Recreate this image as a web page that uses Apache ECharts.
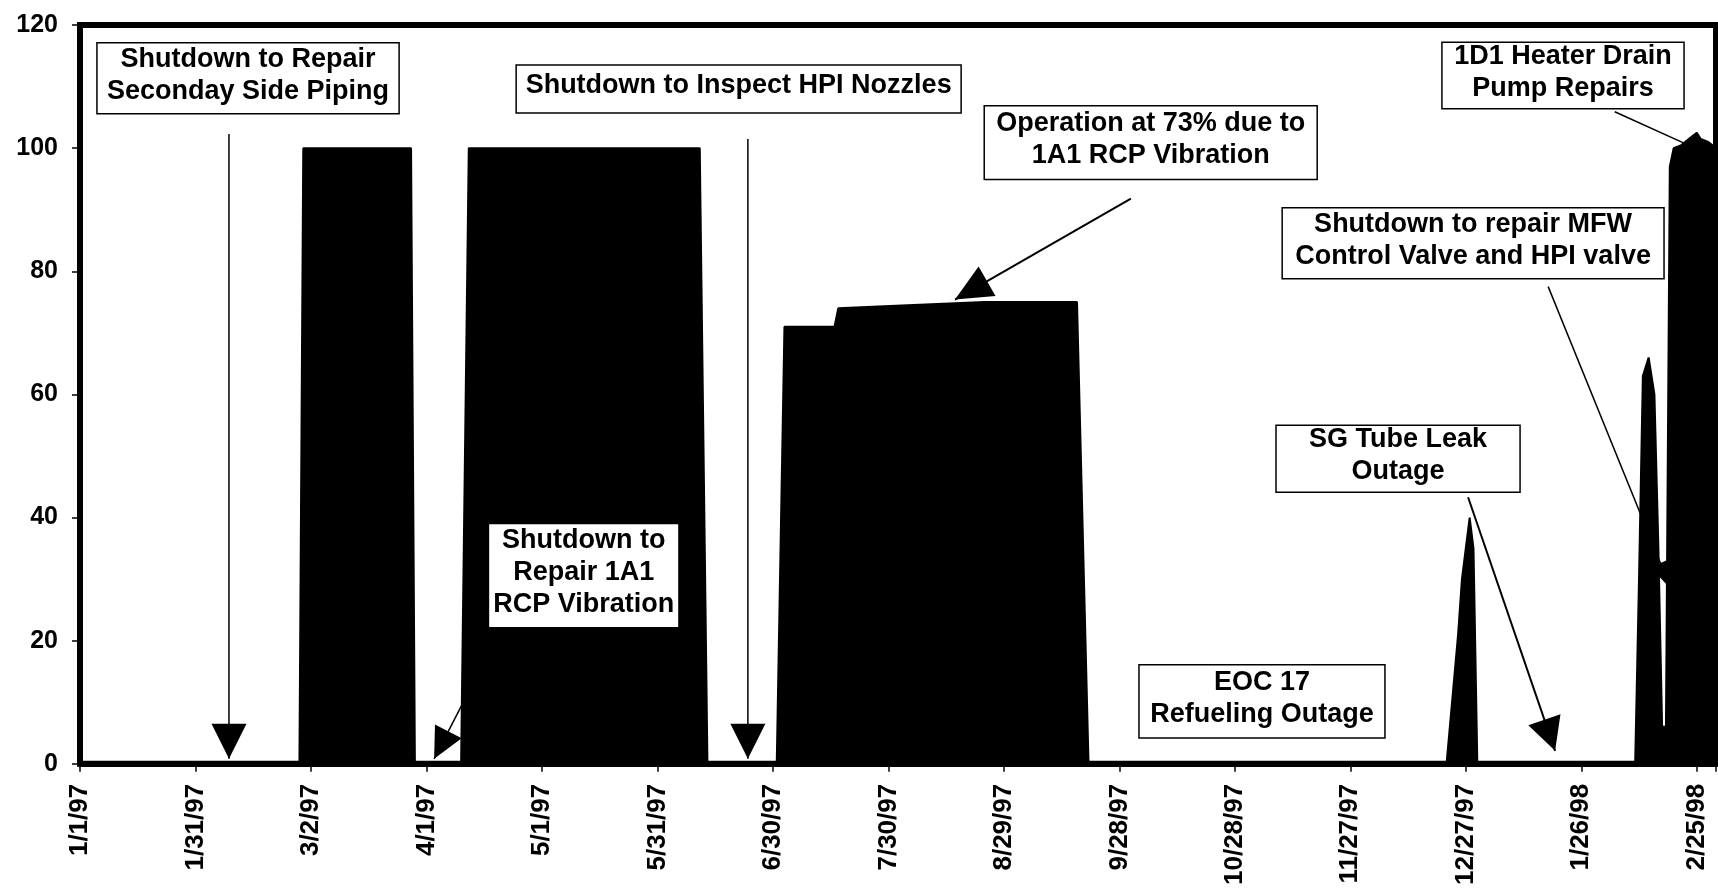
<!DOCTYPE html>
<html>
<head>
<meta charset="UTF-8">
<title>Power level 1997-98</title>
<style>
  html, body { margin: 0; padding: 0; background: #fff; }
  #chart { width: 1718px; height: 888px; }
</style>
</head>
<body>
<div id="chart"></div>
<script src="https://cdn.jsdelivr.net/npm/echarts@6/dist/echarts.min.js"></script>
<script>
// day number counted from 1/1/97, power in %
var days  = [0, 57, 58, 86, 87, 99, 101, 161, 163, 181, 183, 196, 197, 215, 235, 259, 262,
             355, 358, 359, 361, 362, 363, 404, 405, 406, 407.5, 409, 410, 411, 412,
             413, 414, 416, 418, 420, 421, 423, 425];
var power = [0, 0, 100, 100, 0, 0, 100, 100, 0, 0, 71, 71, 74, 74.5, 75, 75, 0,
             0, 21, 30, 40, 35, 0, 0, 30, 63, 66, 60, 36, 6, 6,
             97, 100, 100.5, 101.5, 102.5, 101.5, 101, 100];

var tickDays   = [0, 30, 60, 90, 120, 150, 180, 210, 240, 270, 300, 330, 360, 390, 420];
var tickLabels = ['1/1/97', '1/31/97', '3/2/97', '4/1/97', '5/1/97', '5/31/97', '6/30/97',
                  '7/30/97', '8/29/97', '9/28/97', '10/28/97', '11/27/97', '12/27/97',
                  '1/26/98', '2/25/98'];

var FONT = '"Liberation Sans", Arial, sans-serif';

// annotation boxes, corners given in axis units [day, %]
var notes = [
    { lines: ['Shutdown to Repair', 'Seconday Side Piping'], a: [4.4, 117.1], b: [82.9, 105.6], border: true },
    { lines: ['Shutdown to Inspect HPI Nozzles'], a: [113.3, 113.5], b: [228.9, 105.7], border: true },
    { lines: ['Operation at 73% due to', '1A1 RCP Vibration'], a: [234.9, 106.9], b: [321.4, 94.9], border: true },
    { lines: ['1D1 Heater Drain', 'Pump Repairs'], a: [353.8, 117.2], b: [416.7, 106.4], border: true },
    { lines: ['Shutdown to repair MFW', 'Control Valve and HPI valve'], a: [312.3, 90.3], b: [411.5, 78.8], border: true },
    { lines: ['SG Tube Leak', 'Outage'], a: [310.7, 55.0], b: [374.1, 44.1], border: true },
    { lines: ['EOC 17', 'Refueling Outage'], a: [275.1, 16.1], b: [339.0, 4.2], border: true },
    { lines: ['Shutdown to', 'Repair 1A1', 'RCP Vibration'], a: [106.3, 38.9], b: [155.4, 22.2], border: false }
];

// leader lines, from box to target, in axis units
var arrows = [
    { from: [38.7, 102.3], to: [38.7, 0.8], head: [35, 35], w: 1.5 },
    { from: [173.5, 101.5], to: [173.5, 0.8], head: [35, 35], w: 1.5 },
    { from: [273.0, 91.8], to: [227.3, 75.4], head: [37, 34], w: 2 },
    { from: [360.6, 43.3], to: [383.2, 2.1], head: [33, 34], w: 2 },
    { from: [381.4, 77.5], to: [413.3, 28.4], head: [28, 22], w: 1.5 },
    { from: [398.7, 105.9], to: [416.4, 100.9], head: null, w: 1.5 },
    { from: [109.6, 22.2], to: [92.0, 0.8], head: [31, 30], w: 1.5 }
];

var chart = echarts.init(document.getElementById('chart'));

var seriesData = days.map(function (d, i) { return [d, power[i]]; });

chart.setOption({
    animation: false,
    backgroundColor: '#fff',
    grid: {
        left: 80, right: 2, top: 25, bottom: 123,
        show: true, borderColor: '#000', borderWidth: 6, backgroundColor: 'transparent'
    },
    xAxis: {
        type: 'value',
        min: 0, max: 425, interval: 30,
        axisLine: { show: true, lineStyle: { color: '#000', width: 6 } },
        axisTick: { show: true, length: 8, lineStyle: { color: '#000', width: 1.5 } },
        splitLine: { show: false },
        axisLabel: {
            rotate: 90, margin: 20,
            color: '#000', fontSize: 26, fontWeight: 'bold', fontFamily: FONT,
            formatter: function (v) {
                var i = tickDays.indexOf(v);
                return i < 0 ? '' : tickLabels[i];
            }
        }
    },
    yAxis: {
        type: 'value',
        min: 0, max: 120, interval: 20,
        axisLine: { show: true, lineStyle: { color: '#000', width: 6 } },
        axisTick: { show: true, length: 8, lineStyle: { color: '#000', width: 1.5 } },
        splitLine: { show: false },
        axisLabel: {
            margin: 22,
            color: '#000', fontSize: 25, fontWeight: 'bold', fontFamily: FONT
        }
    },
    series: [{
        type: 'line',
        data: seriesData,
        showSymbol: false,
        smooth: false,
        lineStyle: { color: '#000', width: 2 },
        areaStyle: { color: '#000', opacity: 1 },
        z: 3
    }]
});

function px(p) {
    return chart.convertToPixel({ gridIndex: 0 }, p);
}

var graphic = [];

arrows.forEach(function (ar) {
    var p0 = px(ar.from), p1 = px(ar.to);
    graphic.push({
        type: 'line', z: 10,
        shape: { x1: p0[0], y1: p0[1], x2: p1[0], y2: p1[1] },
        style: { stroke: '#000', lineWidth: ar.w }
    });
    if (ar.head) {
        var dx = p1[0] - p0[0], dy = p1[1] - p0[1];
        var len = Math.sqrt(dx * dx + dy * dy);
        var ux = dx / len, uy = dy / len;
        var h = ar.head[0], w = ar.head[1] / 2;
        var bx = p1[0] - ux * h, by = p1[1] - uy * h;
        graphic.push({
            type: 'polygon', z: 10,
            shape: { points: [[p1[0], p1[1]], [bx - uy * w, by + ux * w], [bx + uy * w, by - ux * w]] },
            style: { fill: '#000' }
        });
    }
});

notes.forEach(function (n) {
    var a = px(n.a), b = px(n.b);
    graphic.push({
        type: 'rect', z: 11,
        shape: { x: a[0], y: a[1], width: b[0] - a[0], height: b[1] - a[1] },
        style: { fill: '#fff', stroke: n.border ? '#000' : null, lineWidth: 1.5 }
    });
    graphic.push({
        type: 'text', z: 12,
        x: (a[0] + b[0]) / 2,
        y: (a[1] + b[1]) / 2 - 3,
        style: {
            text: n.lines.join('\n'),
            fill: '#000',
            fontSize: 27, fontWeight: 'bold', fontFamily: FONT,
            align: 'center', verticalAlign: 'middle', lineHeight: 32
        }
    });
});

chart.setOption({ graphic: graphic });
</script>
</body>
</html>
